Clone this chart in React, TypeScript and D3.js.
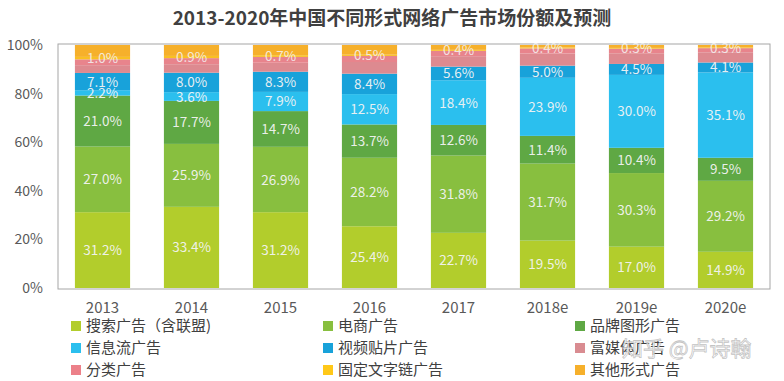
import React from "react";
import * as d3 from "d3";

const years = ["2013", "2014", "2015", "2016", "2017", "2018e", "2019e", "2020e"];
const seriesNames = [
  "搜索广告（含联盟)",
  "电商广告",
  "品牌图形广告",
  "信息流广告",
  "视频贴片广告",
  "富媒体广告",
  "分类广告",
  "固定文字链广告",
  "其他形式广告",
];
const searchAds = [31.2, 33.4, 31.2, 25.4, 22.7, 19.5, 17.0, 14.9];
const ecommerceAds = [27.0, 25.9, 26.9, 28.2, 31.8, 31.7, 30.3, 29.2];
const brandAds = [21.0, 17.7, 14.7, 13.7, 12.6, 11.4, 10.4, 9.5];
const feedAds = [2.2, 3.6, 7.9, 12.5, 18.4, 23.9, 30.0, 35.1];
const videoAds = [7.1, 8.0, 8.3, 8.4, 5.6, 5.0, 4.5, 4.1];
const richMediaAds = [3.2, 3.5, 3.7, 4.8, 4.3, 5.0, 4.4, 4.2];
const classifiedAds = [2.4, 2.5, 2.4, 2.5, 2.2, 2.1, 1.9, 1.7];
const textLinkAds = [1.0, 0.9, 0.7, 0.5, 0.4, 0.4, 0.3, 0.3];
const otherAds = [4.9, 4.5, 4.2, 4.0, 2.0, 1.0, 1.2, 1.0];
const yTicks = [0, 20, 40, 60, 80, 100];

const seriesValues = [
  searchAds,
  ecommerceAds,
  brandAds,
  feedAds,
  videoAds,
  richMediaAds,
  classifiedAds,
  textLinkAds,
  otherAds,
];
const colors = [
  "#B2CD2C",
  "#88BF3F",
  "#5FA844",
  "#2BBFEE",
  "#18A2DA",
  "#DD8A90",
  "#E8848C",
  "#F9C022",
  "#F6B02B",
];
const labeled = [true, true, true, true, true, false, false, true, false];

export default function App() {
  const width = 784;
  const height = 381;
  const left = 58;
  const right = 770;
  const top = 45;
  const bottom = 288;

  const x = d3.scaleBand<string>().domain(years).range([left, right]).paddingInner(0.38).paddingOuter(0.19);
  const y = d3.scaleLinear().domain([0, 100]).range([bottom, top]);

  const table = years.map((yr, i) => {
    const row: any = { year: yr };
    seriesNames.forEach((s, j) => (row[s] = seriesValues[j][i]));
    return row;
  });
  const stack = d3.stack<any>().keys(seriesNames)(table);

  const font = "'Noto Sans CJK SC', 'Noto Sans', sans-serif";

  const legendCols = [76, 328, 580];
  const legendRows = [327, 349, 371];

  return (
    <svg width={width} height={height} style={{ position: "absolute", left: 0, top: 0, background: "#fff" }} fontFamily={font}>
      <rect x={0} y={0} width={width} height={height} fill="#fff" />
      <text x={392} y={25} textAnchor="middle" fontSize={19} fontWeight={700} fill="#404040">
        2013-2020年中国不同形式网络广告市场份额及预测
      </text>
      <rect x={left} y={top - 1} width={right - left} height={bottom - top + 2} fill="none" stroke="#A6A6A6" strokeWidth={1} />
      {yTicks.map((t) => (
        <text key={t} x={43} y={y(t) + 5} textAnchor="end" fontSize={14} fill="#595959">
          {t}%
        </text>
      ))}
      {stack.map((layer, j) =>
        layer.map((d, i) => (
          <rect
            key={`${j}-${i}`}
            x={x(years[i])}
            width={x.bandwidth()}
            y={y(d[1])}
            height={Math.max(0, y(d[0]) - y(d[1]))}
            fill={colors[j]}
          />
        ))
      )}
      {stack.map((layer, j) =>
        labeled[j]
          ? layer.map((d, i) => (
              <text
                key={`l-${j}-${i}`}
                x={(x(years[i]) as number) + x.bandwidth() / 2}
                y={(y(d[0]) + y(d[1])) / 2 + 5}
                textAnchor="middle"
                fontSize={13.5}
                fill="#F4F4F4"
                fillOpacity={j === 7 ? 0.85 : 0.95}
              >
                {seriesValues[j][i].toFixed(1)}%
              </text>
            ))
          : null
      )}
      {years.map((yr) => (
        <text key={yr} x={(x(yr) as number) + x.bandwidth() / 2} y={313} textAnchor="middle" fontSize={15} fill="#595959">
          {yr}
        </text>
      ))}
      {seriesNames.map((s, k) => {
        const cx = legendCols[k % 3];
        const cy = legendRows[Math.floor(k / 3)];
        return (
          <g key={s}>
            <rect x={cx - 5} y={cy - 6} width={10} height={10} fill={k === 5 ? "#D98C91" : k === 6 ? "#EC8089" : k === 7 ? "#FFC818" : colors[k]} />
            <text x={cx + 10} y={cy + 4} fontSize={15} fill="#404040">
              {s}
            </text>
          </g>
        );
      })}
      <text
        x={622}
        y={356}
        fontSize={21}
        fill="#FFFFFF"
        fillOpacity={0.85}
        stroke="#9A9A9A"
        strokeWidth={0.8}
        strokeOpacity={0.6}
      >
        知乎 @卢诗翰
      </text>
    </svg>
  );
}
